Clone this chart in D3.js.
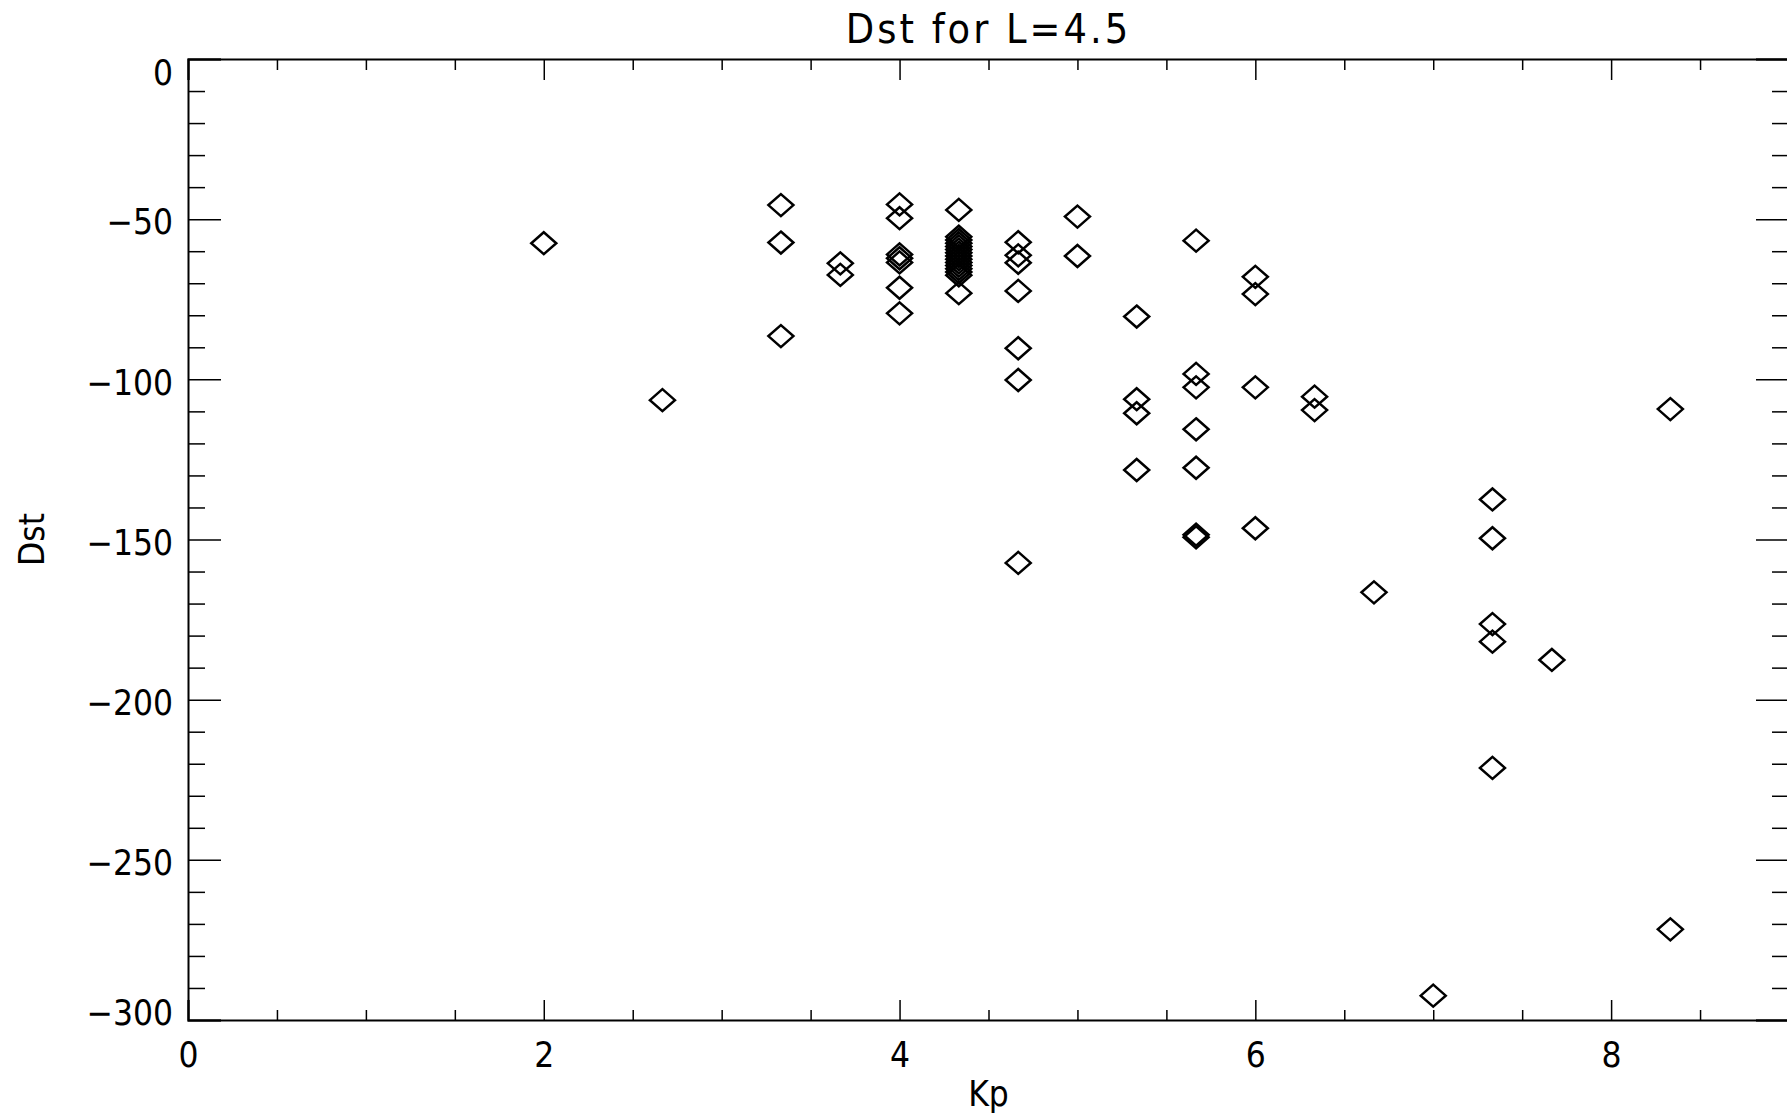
<!DOCTYPE html>
<html>
<head>
<meta charset="utf-8">
<script src="https://cdnjs.cloudflare.com/ajax/libs/d3/7.8.5/d3.min.js"></script>
<style>
    body { margin: 0; background: #fff; }
    text { font-family: "DejaVu Sans Condensed", "Liberation Sans Narrow", "DejaVu Sans", sans-serif; fill: #000; }
</style>
</head>
<body>
<div id="vis"></div>
<script>
// Kp values (thirds) and matching Dst values, one row per Kp column
var kp = [
    2.0,
    2.667,
    3.333, 3.333, 3.333,
    3.667, 3.667,
    4.0, 4.0, 4.0, 4.0, 4.0, 4.0, 4.0,
    4.333, 4.333, 4.333, 4.333, 4.333, 4.333, 4.333, 4.333, 4.333, 4.333, 4.333, 4.333, 4.333, 4.333, 4.333,
    4.667, 4.667, 4.667, 4.667, 4.667, 4.667, 4.667,
    5.0, 5.0,
    5.333, 5.333, 5.333, 5.333,
    5.667, 5.667, 5.667, 5.667, 5.667, 5.667, 5.667,
    6.0, 6.0, 6.0, 6.0,
    6.333, 6.333,
    6.667,
    7.0,
    7.333, 7.333, 7.333, 7.333, 7.333,
    7.667,
    8.333, 8.333
];
var dst = [
    -57.5,
    -106.5,
    -45.6, -57.3, -86.5,
    -63.8, -67.4,
    -45.4, -49.7, -61.0, -62.2, -63.5, -71.4, -79.4,
    -47.1, -55.5, -56.5, -57.5, -58.5, -59.5, -60.5, -61.5, -62.5, -63.5, -64.5, -65.5, -66.5, -67.5, -73.1,
    -57.2, -61.3, -63.6, -72.4, -90.3, -100.2, -157.3,
    -49.2, -61.5,
    -80.4, -106.2, -110.6, -128.3,
    -56.7, -98.3, -102.5, -115.6, -127.6, -148.5, -149.3,
    -68.0, -73.4, -102.5, -146.5,
    -105.4, -109.6,
    -166.5,
    -292.4,
    -137.5, -149.6, -176.4, -181.9, -221.3,
    -187.6,
    -109.3, -271.7
];

var xMajor = [0, 2, 4, 6, 8];
var xMinor = [0.5, 1, 1.5, 2.5, 3, 3.5, 4.5, 5, 5.5, 6.5, 7, 7.5, 8.5];
var yMajor = [0, -50, -100, -150, -200, -250, -300];
var yMinor = [-10, -20, -30, -40, -60, -70, -80, -90, -110, -120, -130, -140,
    -160, -170, -180, -190, -210, -220, -230, -240, -260, -270, -280, -290];

var title = "Dst for L=4.5";
var xTitle = "Kp";
var yTitle = "Dst";

var width = 1787, height = 1117;
var margin = { top: 59, left: 188, right: 1789, bottom: 1020 };

var svg = d3.select("#vis").append("svg")
    .attr("width", width)
    .attr("height", height);

svg.append("rect").attr("width", width).attr("height", height).attr("fill", "#fff");

var x = d3.scaleLinear().domain([0, 9]).range([margin.left, margin.right]);
var y = d3.scaleLinear().domain([-300, 0]).range([margin.bottom, margin.top]);

var fmt = function (d) { return d3.format("d")(d); };

// bottom axis
svg.append("g")
    .attr("transform", "translate(0," + margin.bottom + ")")
    .call(d3.axisBottom(x).tickValues(xMajor).tickSize(-20).tickPadding(22).tickFormat(fmt));
svg.append("g")
    .attr("transform", "translate(0," + margin.bottom + ")")
    .call(d3.axisBottom(x).tickValues(xMinor).tickSize(-10).tickFormat(""))
    .select(".domain").remove();

// top axis
svg.append("g")
    .attr("transform", "translate(0," + margin.top + ")")
    .call(d3.axisTop(x).tickValues(xMajor).tickSize(-21).tickFormat(""));
svg.append("g")
    .attr("transform", "translate(0," + margin.top + ")")
    .call(d3.axisTop(x).tickValues(xMinor).tickSize(-11).tickFormat(""))
    .select(".domain").remove();

// left axis
var gy = svg.append("g")
    .attr("transform", "translate(" + margin.left + ",0)")
    .call(d3.axisLeft(y).tickValues(yMajor).tickSize(-33).tickPadding(15).tickFormat(fmt));
svg.append("g")
    .attr("transform", "translate(" + margin.left + ",0)")
    .call(d3.axisLeft(y).tickValues(yMinor).tickSize(-17).tickFormat(""))
    .select(".domain").remove();

// right axis
svg.append("g")
    .attr("transform", "translate(" + margin.right + ",0)")
    .call(d3.axisRight(y).tickValues(yMajor).tickSize(-33).tickFormat(""));
svg.append("g")
    .attr("transform", "translate(" + margin.right + ",0)")
    .call(d3.axisRight(y).tickValues(yMinor).tickSize(-17).tickFormat(""))
    .select(".domain").remove();

svg.selectAll(".domain").attr("stroke", "#000").attr("stroke-width", 2);
svg.selectAll(".tick line").attr("stroke", "#000").attr("stroke-width", 1.5);
svg.selectAll(".tick text").attr("font-size", 35).attr("fill", "#000")
    .style("font-family", "\"DejaVu Sans Condensed\", \"Liberation Sans Narrow\", \"DejaVu Sans\", sans-serif");

// end labels on the y axis are kept inside the axis range
gy.selectAll(".tick text").attr("dy", function (d) {
    if (d == 0) return "0.74em";
    if (d == -300) return "0.13em";
    return "0.42em";
});

// diamonds
var diamond = "M0,-11L12.5,0L0,11L-12.5,0Z";
svg.append("g").selectAll("path")
    .data(kp.map(function (k, i) { return { kp: k, dst: dst[i] }; }))
    .enter().append("path")
    .attr("d", diamond)
    .attr("transform", function (d) { return "translate(" + x(d.kp) + "," + y(d.dst) + ")"; })
    .attr("fill", "none")
    .attr("stroke", "#000")
    .attr("stroke-width", 2.5);

svg.append("text")
    .attr("x", (margin.left + margin.right) / 2)
    .attr("y", 43)
    .attr("text-anchor", "middle")
    .attr("font-size", 41)
    .attr("letter-spacing", 3)
    .text(title);

svg.append("text")
    .attr("x", (margin.left + margin.right) / 2)
    .attr("y", 1106)
    .attr("text-anchor", "middle")
    .attr("font-size", 35)
    .text(xTitle);

svg.append("text")
    .attr("transform", "translate(44," + (margin.top + margin.bottom) / 2 + ") rotate(-90)")
    .attr("text-anchor", "middle")
    .attr("font-size", 35)
    .text(yTitle);
</script>
</body>
</html>
